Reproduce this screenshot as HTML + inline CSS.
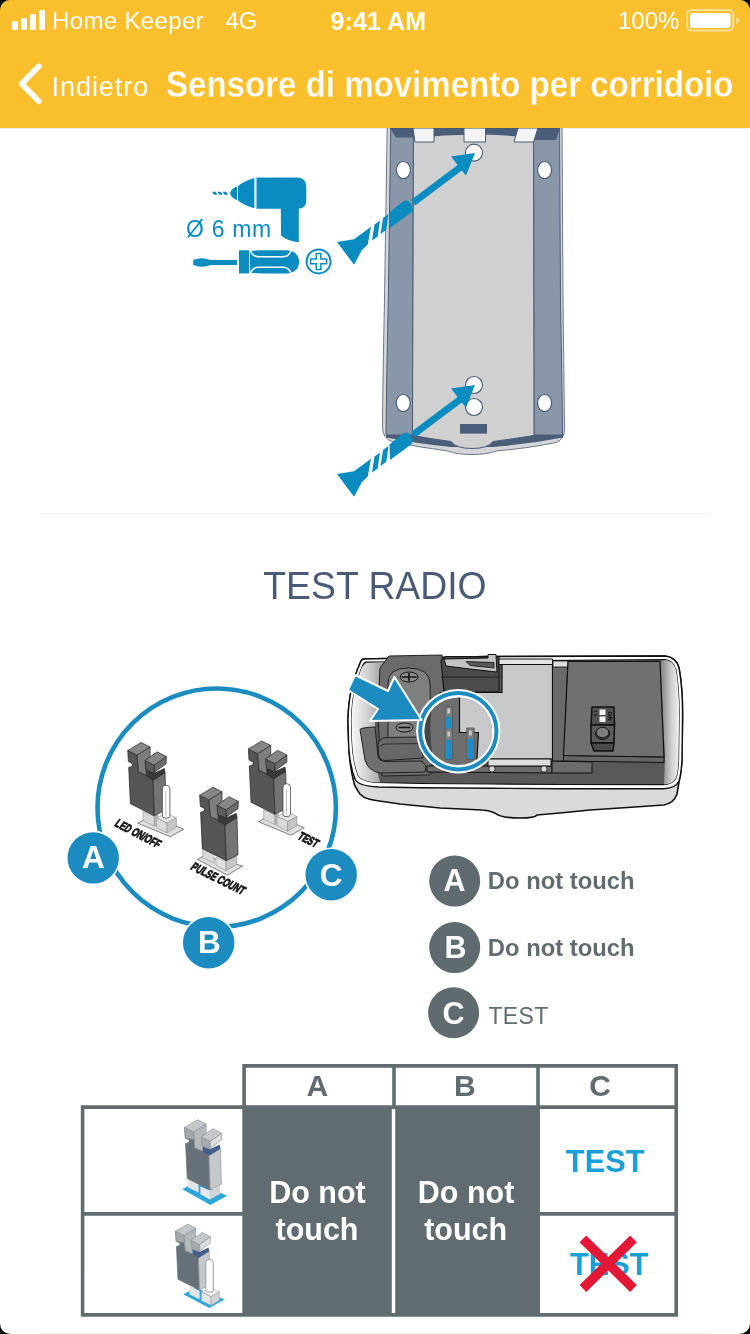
<!DOCTYPE html>
<html lang="it">
<head>
<meta charset="utf-8">
<title>Sensore di movimento per corridoio</title>
<style>
*{margin:0;padding:0;box-sizing:border-box}
html,body{width:750px;height:1334px;background:#000;overflow:hidden}
body{font-family:"Liberation Sans",sans-serif;position:relative}
#screen{will-change:transform;position:absolute;left:0;top:0;width:750px;height:1334px;background:#fff;border-radius:10.500px;overflow:hidden}
#hdr{position:absolute;left:0;top:0;width:750px;height:128px;background:#f9bf2c;z-index:5;box-shadow:0 0 1px rgba(0,0,0,.35)}
.t{position:absolute;white-space:nowrap;color:#fff;line-height:1}
#carrier{left:52px;top:9.300px;font-size:24px;letter-spacing:.35px}
#net{left:225.500px;top:9.300px;font-size:24px}
#clock{left:330.500px;top:8.500px;font-size:25px;font-weight:bold;letter-spacing:.1px}
#pct{left:618px;top:9.300px;font-size:24px}
#back{left:51.500px;top:73.600px;font-size:27px;letter-spacing:.95px}
#title{left:165.500px;top:67px;font-size:36px;font-weight:bold;transform:scaleX(.918);transform-origin:0 0;-webkit-text-stroke:.3px #f9bf2c}
#art{position:absolute;left:0;top:0;width:750px;height:1334px}
.sep{position:absolute;left:40px;width:670px;height:1px;background:#efefef}
#h2{position:absolute;left:0;width:750px;top:567px;text-align:center;font-size:38.500px;transform:scaleX(.97);transform-origin:374px 0;color:#4b5b75;line-height:1;white-space:nowrap}
</style>
</head>
<body>
<div id="screen">
<svg id="art" viewBox="0 0 750 1334" font-family="'Liberation Sans',sans-serif">
<!--PLATE-->
<g id="plate">
<!-- outer shell -->
<path d="M387.300 120 L562 120 L563 300 Q564 380 564.500 427 Q565 439.500 556 442.500 Q530 448 496 451 Q488 454.5 472 454.5 Q456 454.5 448 451 Q420 447.5 392 441.5 Q382.5 438.5 382.5 427 Q382.8 380 384.5 300 Z" fill="#d4d5d7" stroke="#6b7a90" stroke-width="1"/>
<!-- dark lower band -->
<path d="M386 432 L563 432 L563 437.5 Q530 444 493 447 L451 447 Q420 444 386 437.5 Z" fill="#4a5d79"/>
<!-- rails -->
<path d="M390.800 120 L413.500 120 L412.500 435 L386 435 Q386.500 380 388.300 300 Z" fill="#8997a9" stroke="#4a5d79" stroke-width="1"/>
<path d="M533.500 120 L559.500 120 L560.500 300 Q562 380 562.500 435 L534 435 Z" fill="#8997a9" stroke="#4a5d79" stroke-width="1"/>
<!-- inner panel -->
<path d="M413.5 120 L533.5 120 L534 435.5 Q512 439 493 441.5 Q488 448.5 472 448.5 Q456 448.5 451 441.5 Q432 439 412.5 435.5 Z" fill="#d0d0d0" stroke="#4a5d79" stroke-width="1"/>
<!-- top dark strip -->
<path d="M390 128 L560 128 L556 140 L534 140 L533 138 Q474 131 414 138 L413 137.500 L396 137.500 Z" fill="#4a5d79"/>
<!-- tabs -->
<path d="M413 128 L434 128 L434 142 L415 142 Z" fill="#f4f4f4" stroke="#4a5d79" stroke-width="1"/>
<path d="M464 128 L485.500 128 L485.500 142 L464 142 Z" fill="#f4f4f4" stroke="#4a5d79" stroke-width="1"/>
<path d="M518 128 L538 128 L533.500 142 L514 142 Z" fill="#f4f4f4" stroke="#4a5d79" stroke-width="1"/>
<!-- holes -->
<g fill="#fff" stroke="#4a5d79" stroke-width="1.200">
<ellipse cx="403.400" cy="170" rx="7" ry="8.500"/>
<ellipse cx="544.600" cy="170" rx="7" ry="8.500"/>
<ellipse cx="403.200" cy="403" rx="7" ry="8.500"/>
<ellipse cx="544.600" cy="403" rx="7" ry="8.500"/>
<circle cx="474" cy="152.600" r="8.500"/>
<circle cx="474" cy="385" r="8.500"/>
<circle cx="474" cy="407" r="8.500"/>
</g>
<rect x="460" y="424" width="27" height="9.600" fill="#4a5d79"/>
</g>
<g id="screws" fill="#0a8cc0">
<g id="screw1">
<path d="M475 153 L451 156.600 L457.600 165 L411 200 L415.200 205.600 L461.800 170.500 L466 175.600 Z"/>
<path d="M389.500 212.500 L403 201.500 Q407.500 199 410.500 203 L412.300 207 Q413.500 210.500 410.500 213 L390 228 Z"/>
<path d="M380.500 234 L383 218 L388.500 214 L386.200 230 Z"/>
<path d="M372 240.500 L374.500 224.500 L380 220.500 L377.700 236.500 Z"/>
<path d="M337 242 L354 239.300 L371 226.700 L367.700 244.700 L362 250 L354 264.700 Z"/>
</g>
<g id="screw2" transform="translate(0,232)">
<path d="M475 153 L451 156.600 L457.600 165 L411 200 L415.200 205.600 L461.800 170.500 L466 175.600 Z"/>
<path d="M389.500 212.500 L403 201.500 Q407.500 199 410.500 203 L412.300 207 Q413.500 210.500 410.500 213 L390 228 Z"/>
<path d="M380.500 234 L383 218 L388.500 214 L386.200 230 Z"/>
<path d="M372 240.500 L374.500 224.500 L380 220.500 L377.700 236.500 Z"/>
<path d="M337 242 L354 239.300 L371 226.700 L367.700 244.700 L362 250 L354 264.700 Z"/>
</g>
</g>
<g id="tools" fill="#0a8cc0">
<!-- drill -->
<path d="M256.500 177.500 L297 177.500 Q306.300 177.500 306.300 187 L306.300 199.500 Q306.300 208.700 298.800 208.700 L298.800 242.200 Q288 241.500 281 235.500 L280.800 208.700 L256.500 208.700 Z"/>
<path d="M254.400 178 L254.400 208.200 Q244 205.500 238 200.500 L238 186 Q244 181 254.400 178 Z"/>
<path d="M237 186.500 L237 200 Q231.500 198.500 230 193.200 Q231.500 188 237 186.500 Z"/>
<path d="M212 191.800 L215.500 191.800 L217.500 194.800 L214 194.800 Z M217.300 191.800 L220.800 191.800 L222.800 194.800 L219.300 194.800 Z M222.600 191.800 L226.100 191.800 L228.100 194.800 L224.600 194.800 Z"/>
<!-- screwdriver -->
<path d="M193.200 260 Q199 257.500 205 258.500 Q208 259.500 212 260 L237 260 L237 265 L212 265 Q208 265.500 205 266.500 Q199 267.500 193.200 265 Z"/>
<path d="M239 250.300 L249 250.300 L249 273.400 L239 273.400 Z"/>
<path d="M250 251 Q255 250.300 262 250.300 L287 250.300 Q299 251.500 299 262 Q299 272.500 287 273.400 L262 273.400 Q255 273.400 250 272.700 Z"/>
<path d="M250.5 251 Q253 256.800 258.500 256.800 L283 256.800 Q288.500 256.800 291 251" fill="none" stroke="#fff" stroke-width="1.500"/>
<path d="M250.5 272.800 Q253 267.200 258.500 267.200 L283 267.200 Q288.500 267.200 291 272.800" fill="none" stroke="#fff" stroke-width="1.500"/>
<circle cx="318.600" cy="261.400" r="12" fill="none" stroke="#0a8cc0" stroke-width="2"/>
<path d="M316.300 253.400 h4.600 v5.700 h5.700 v4.600 h-5.700 v5.700 h-4.600 v-5.700 h-5.700 v-4.600 h5.700 z" fill="none" stroke="#0a8cc0" stroke-width="1.500"/>
<text x="186" y="236.800" font-size="23" letter-spacing="0.700" fill="#0a8cc0">Ø 6 mm</text>
</g>
<!--/PLATE-->
<g id="device" stroke-linejoin="round">
<defs>
<linearGradient id="gwr" x1="0" y1="0" x2="1" y2="0"><stop offset="0" stop-color="#7d7d7d"/><stop offset=".6" stop-color="#cfcfcf"/><stop offset="1" stop-color="#f2f2f2"/></linearGradient>
<linearGradient id="gwl" x1="0" y1="0" x2="1" y2="0"><stop offset="0" stop-color="#f8f8f8"/><stop offset=".5" stop-color="#d0d0d0"/><stop offset="1" stop-color="#9a9a9a"/></linearGradient>
<clipPath id="lens"><circle cx="458.300" cy="731.200" r="33.800"/></clipPath>
</defs>
<!-- shell -->
<path d="M363 659 L488 656.500 L665 656 Q676 657 679 668 Q683 690 682.500 720 L682 760 Q681 775 679 782 L677 794 Q674 803 664 805 L620 808 L590 810 L560 813 L537 815 Q535 818 520 818 Q500 818 495 813 Q488 810 482 810 L440 808 L400 804 L376 800.500 Q361 798.500 358 791 L354.500 785 Q349 765 348.500 740 L348 720 Q348.500 700 352 688 Q356 672 359 666 Q361 660 363 659 Z" fill="#dadada" stroke="#111" stroke-width="1.600"/>
<!-- rim -->
<path d="M363 659 L488 656.500 L665 656 Q676 657 679 668 Q683 690 682.500 720 L682 760 Q681 775 679 781 Q676 788 664 788.700 L560 788.700 L490 788.300 L420 787.800 L378 787 Q359 786 355.500 780 Q349 765 348.500 740 L348 720 Q348.500 700 352 688 Q356 672 359 666 Q361 660 363 659 Z" fill="#fff" stroke="#111" stroke-width="1.400"/>
<!-- cavity -->
<path d="M366 662 L665 659.500 Q673 660 676 670 Q679.500 690 679 720 L678.500 760 Q678 772 676 778 Q673 784 664 784.700 L560 784.500 L490 784 L420 783.500 L378 782.500 Q361 781.500 358 775 Q352.500 760 352 740 L351.500 720 Q352 700 355 690 Q359 674 362 667 Q363.500 662.500 366 662 Z" fill="#595959" stroke="#111" stroke-width="1.200"/>
<!-- inner left wall -->
<path d="M366 663 L384 662 Q376 690 375 725 L377 770 L380 782 L378 782.500 Q361 781.500 358 775 Q352.500 760 352 740 L351.500 720 Q352 700 355 690 Q359 674 362 667 Z" fill="url(#gwl)"/>
<!-- inner right wall -->
<path d="M660 661 L665 660 Q673 660 676 670 Q679.500 690 679 720 L678.500 760 Q678 772 676 778 Q673 784 664 784.500 L665 758 Z" fill="url(#gwr)"/>
<!-- battery holder -->
<path d="M380 668 L389 656 L442 655 L444 700 L430 775 L382 776 Q376 730 380 668 Z" fill="#6b6b6b" stroke="#222" stroke-width="1"/>
<path d="M388 683 Q388 668 408 668 Q430 668 430 684 L431 746 L388 748 Z" fill="#7f7f7f" stroke="#222" stroke-width="1"/>
<ellipse cx="409" cy="677" rx="9" ry="5" fill="#8c8c8c" stroke="#111" stroke-width="1"/>
<path d="M401.500 677 h15 M409 673 v8" stroke="#111" stroke-width="1.600" fill="none"/>
<ellipse cx="404.500" cy="727.500" rx="8.500" ry="4.500" fill="#8c8c8c" stroke="#111" stroke-width="1"/>
<path d="M398.500 727.500 h12" stroke="#111" stroke-width="1.600" fill="none"/>
<path d="M360 729.500 Q361 727.500 375 727 L378 756 Q379 761 385 761.500 L422 761 L426 766 L425 772 L380 773 Q368 771 365 760 Z" fill="#707070" stroke="#222" stroke-width="1"/>
<path d="M378 745 Q379 738 386 737.500 L418 737 Q422 738 422.500 744 L423 758 L385 760.500 Q379 760 378.500 754 Z" fill="#686868" stroke="#222" stroke-width="1"/><path d="M380 746 Q382 744 386 744 L422 743.500" fill="none" stroke="#222" stroke-width=".8"/>
<!-- floor strips -->
<path d="M427 766 L552 766 L552 773 L427 772 Z" fill="#6c6c6c" stroke="#111" stroke-width="1"/>
<path d="M552 761 L592 762 L592 773 L552 773 Z" fill="#6c6c6c" stroke="#111" stroke-width="1"/>
<!-- clip -->
<path d="M441 660 L446 656.500 L499 657 L499 692 L444 692 Z" fill="#4b4b4b" stroke="#111" stroke-width="1"/>
<path d="M441 677 L499 677" stroke="#222" stroke-width="1" fill="none"/>
<path d="M444 659 L488 658 L488 654.500 L496 654.500 L497 672 L470 669 L446 666 Z" fill="#c3c3c3" stroke="#111" stroke-width="1"/>
<path d="M466 661.500 L494 662.500 L494 668 L470 665.500 Z" fill="#5a5a5a" stroke="#111" stroke-width=".8"/>
<!-- pcb -->
<path d="M499 659 L552.500 659 L552.500 664.500 L499 664.500 Z" fill="#e4e4e4" stroke="#111" stroke-width="1"/>
<path d="M502 664.500 L552.500 664.500 L552.500 759 L440 759 L440 692.500 L502 692.500 Z" fill="#c7c8ca" stroke="#111" stroke-width="1.200"/>
<path d="M488 759 L551 759 L551 766 L488 766 Z" fill="#dcdcdc" stroke="#111" stroke-width="1"/>
<circle cx="492" cy="769" r="3.200" fill="#d8d8d8" stroke="#111" stroke-width=".8"/>
<circle cx="544" cy="769" r="3.200" fill="#d8d8d8" stroke="#111" stroke-width=".8"/>
<!-- mid strip -->
<path d="M552.500 661 L568 661 L564 761 L552.500 761 Z" fill="#6a6a6a" stroke="#111" stroke-width="1"/>
<path d="M553 661 L568 661 L568 667 L553 667 Z" fill="#dedede" stroke="#111" stroke-width=".8"/>
<!-- right board -->
<path d="M563.500 755.500 L664 757 L664 762.500 L563.500 761 Z" fill="#666" stroke="#111" stroke-width="1"/>
<path d="M568 661.500 L660 661.500 L664 757 L563.500 755.500 Z" fill="#707070" stroke="#111" stroke-width="1.200"/>
<!-- dip switch -->
<path d="M592 707 L614 707 L614.500 725 L591 725 Z" fill="#505050" stroke="#111" stroke-width="1.500"/>
<path d="M591 725 L614.500 725 L614 743 L591 743 Z" fill="#5c5c5c" stroke="#111" stroke-width="1.500"/>
<path d="M591 743 L614 743 L613 751 L594 751 Z" fill="#4a4a4a" stroke="#111" stroke-width="1.500"/>
<ellipse cx="602.500" cy="733.500" rx="7" ry="6" fill="#3a3a3a" stroke="#111" stroke-width="1"/>
<ellipse cx="602.500" cy="732.500" rx="6.300" ry="5.200" fill="#7d7d7d" stroke="#111" stroke-width=".8"/>
<rect x="599.500" y="709.500" width="6" height="5.500" fill="#f2f2f2"/>
<rect x="599.500" y="716.500" width="6" height="5.500" fill="#f2f2f2"/>
<text transform="translate(607.500,711.500) rotate(90)" font-size="6" font-weight="bold" fill="#0c0c0c" stroke="none">ON</text>
<text transform="translate(594,710.500) rotate(90)" font-size="4" font-weight="bold" fill="#0c0c0c" stroke="none">1 2</text>
<!-- lens -->
<circle cx="458.300" cy="731.200" r="42.200" fill="#fff"/>
<g clip-path="url(#lens)">
<rect x="415" y="690" width="90" height="85" fill="#6e6e6e"/><path d="M424 716 Q429 709 432 706 Q428 731 433 757 Q427 750 424 746 Z" fill="#3c3c3c" opacity=".8"/>
<path d="M459.500 688 L502 688 L502 775 L476 775 L478.500 732.500 L459.500 732.500 Z" fill="#c7c8ca" stroke="#111" stroke-width="1.200"/>
<rect x="445" y="706.500" width="7.500" height="53" fill="#7c7c7c" stroke="#555" stroke-width=".8"/>
<rect x="446" y="717" width="5.500" height="11.500" fill="#1c8dc8"/>
<rect x="446" y="740" width="5.500" height="19" fill="#1c8dc8"/>
<rect x="447.300" y="708.500" width="2.800" height="5" fill="#c8c8c8"/>
<rect x="447.300" y="731.500" width="2.800" height="5" fill="#c8c8c8"/>
<rect x="466.700" y="728" width="7.500" height="31.500" fill="#7c7c7c" stroke="#555" stroke-width=".8"/>
<rect x="467.700" y="739" width="5.500" height="20" fill="#1c8dc8"/>
<rect x="469" y="730.500" width="2.800" height="5" fill="#c8c8c8"/>
</g>
<circle cx="458.300" cy="731.200" r="38.200" fill="none" stroke="#1c8bbf" stroke-width="4"/>
<!-- big arrow -->
<path d="M355 675 L388 691 L394.400 677 L421.600 720 L370 721 L378 709 L348 690 Z" fill="#1c8bbf" stroke="#fff" stroke-width="2"/>
</g>
<g id="jumpers">
<circle cx="216.700" cy="807.700" r="119.200" fill="none" stroke="#1c8bbf" stroke-width="4.600"/>
<!-- jumper C -->
<g transform="translate(235,735) scale(0.13333)" stroke="#222" stroke-width="5" stroke-linejoin="round">
<path d="M175 650 L275 595 L520 695 L420 752 Z" fill="#dedede" stroke-width="4"/>
<path d="M215 560 L300 600 L300 672 L215 632 Z" fill="#d9d9d9" stroke="#8a8a8a" stroke-width="4"/>
<path d="M300 600 L325 588 L325 660 L300 672 Z" fill="#bdbdbd" stroke="#8a8a8a" stroke-width="4"/>
<path d="M100 105 L170 140 L180 265 L262 300 L290 325 L300 595 L120 505 L107 232 L132 224 L138 206 L105 188 Z" fill="#565656"/>
<path d="M290 325 L380 270 L388 550 L300 595 Z" fill="#747474"/>
<path d="M238 250 L300 275 L375 240 L380 272 L292 328 L240 296 Z" fill="#3a3a3a"/>
<path d="M170 140 L268 78 L268 150 L234 182 L240 292 L180 265 Z" fill="#7e7e7e"/>
<path d="M100 105 L200 45 L268 78 L170 140 Z" fill="#868686"/>
<path d="M230 180 L300 215 L300 275 L262 262 L236 250 Z" fill="#5c5c5c"/>
<path d="M300 215 L390 150 L388 205 L300 268 Z" fill="#6c6c6c"/>
<path d="M230 180 L320 115 L390 150 L300 215 Z" fill="#868686"/>
<path d="M315 610 L390 575 L465 610 L395 650 Z" fill="#e4e4e4" stroke="#8a8a8a" stroke-width="4"/>
<path d="M315 610 L395 650 L395 722 L315 682 Z" fill="#d9d9d9" stroke="#8a8a8a" stroke-width="4"/>
<path d="M395 650 L465 610 L465 680 L395 722 Z" fill="#c6c6c6" stroke="#8a8a8a" stroke-width="4"/>
<path d="M360 392 Q360 365 388 365 Q416 365 416 392 L416 598 Q416 612 388 612 Q360 612 360 598 Z" fill="#fff" stroke="#4a4a4a" stroke-width="6"/>
<path d="M386 410 L386 595" stroke="#9a9a9a" stroke-width="5" fill="none"/>
</g>
<!-- jumper A -->
<g transform="translate(114.400,736.500) scale(0.13333)" stroke="#222" stroke-width="5" stroke-linejoin="round">
<path d="M175 650 L275 595 L520 695 L420 752 Z" fill="#dedede" stroke-width="4"/>
<path d="M215 560 L300 600 L300 672 L215 632 Z" fill="#d9d9d9" stroke="#8a8a8a" stroke-width="4"/>
<path d="M300 600 L325 588 L325 660 L300 672 Z" fill="#bdbdbd" stroke="#8a8a8a" stroke-width="4"/>
<path d="M100 105 L170 140 L180 265 L262 300 L290 325 L300 595 L120 505 L107 232 L132 224 L138 206 L105 188 Z" fill="#565656"/>
<path d="M290 325 L380 270 L388 550 L300 595 Z" fill="#747474"/>
<path d="M238 250 L300 275 L375 240 L380 272 L292 328 L240 296 Z" fill="#3a3a3a"/>
<path d="M170 140 L268 78 L268 150 L234 182 L240 292 L180 265 Z" fill="#7e7e7e"/>
<path d="M100 105 L200 45 L268 78 L170 140 Z" fill="#868686"/>
<path d="M230 180 L300 215 L300 275 L262 262 L236 250 Z" fill="#5c5c5c"/>
<path d="M300 215 L390 150 L388 205 L300 268 Z" fill="#6c6c6c"/>
<path d="M230 180 L320 115 L390 150 L300 215 Z" fill="#868686"/>
<path d="M315 610 L390 575 L465 610 L395 650 Z" fill="#e4e4e4" stroke="#8a8a8a" stroke-width="4"/>
<path d="M315 610 L395 650 L395 722 L315 682 Z" fill="#d9d9d9" stroke="#8a8a8a" stroke-width="4"/>
<path d="M395 650 L465 610 L465 680 L395 722 Z" fill="#c6c6c6" stroke="#8a8a8a" stroke-width="4"/>
<path d="M360 392 Q360 365 388 365 Q416 365 416 392 L416 598 Q416 612 388 612 Q360 612 360 598 Z" fill="#fff" stroke="#4a4a4a" stroke-width="6"/>
<path d="M386 410 L386 595" stroke="#9a9a9a" stroke-width="5" fill="none"/>
</g>
<!-- jumper B -->
<g transform="translate(186.300,781.300) scale(0.13333)" stroke="#222" stroke-width="5" stroke-linejoin="round">
<path d="M83 585 L130 560 L423 635 L308 705 Z" fill="#dedede" stroke-width="4"/>
<path d="M123 505 L208 545 L208 615 L123 575 Z" fill="#d9d9d9" stroke="#8a8a8a" stroke-width="4"/>
<path d="M223 570 L298 600 L298 670 L223 630 Z" fill="#e0e0e0" stroke="#8a8a8a" stroke-width="4"/>
<path d="M298 600 L378 560 L378 625 L298 670 Z" fill="#c6c6c6" stroke="#8a8a8a" stroke-width="4"/>
<path d="M100 105 L170 140 L180 265 L262 300 L290 325 L300 595 L120 505 L107 232 L132 224 L138 206 L105 188 Z" fill="#565656"/>
<path d="M290 325 L380 270 L388 550 L300 595 Z" fill="#747474"/>
<path d="M238 250 L300 275 L375 240 L380 272 L292 328 L240 296 Z" fill="#3a3a3a"/>
<path d="M170 140 L268 78 L268 150 L234 182 L240 292 L180 265 Z" fill="#7e7e7e"/>
<path d="M100 105 L200 45 L268 78 L170 140 Z" fill="#868686"/>
<path d="M230 180 L300 215 L300 275 L262 262 L236 250 Z" fill="#5c5c5c"/>
<path d="M300 215 L390 150 L388 205 L300 268 Z" fill="#6c6c6c"/>
<path d="M230 180 L320 115 L390 150 L300 215 Z" fill="#868686"/>
</g>
<!-- labels -->
<g font-weight="bold" font-size="12.200" fill="#111" stroke="#111" stroke-width=".8" stroke-linejoin="round">
<text transform="translate(113.800,825.600) rotate(27.500) skewX(-10) scale(.665,1)">LED ON/OFF</text>
<text transform="translate(189.800,869) rotate(26.500) skewX(-10) scale(.665,1)">PULSE COUNT</text>
<text transform="translate(296.800,838.500) rotate(26.500) skewX(-10) scale(.665,1)">TEST</text>
</g>
<!-- badges -->
<g font-weight="bold" font-size="31.500" fill="#fff" text-anchor="middle">
<circle cx="93.200" cy="857.900" r="27.300" fill="#fff"/>
<circle cx="93.200" cy="857.900" r="25.700" fill="#1c8bbf"/>
<text x="93.400" y="868.400">A</text>
<circle cx="208.700" cy="942.700" r="27.300" fill="#fff"/>
<circle cx="208.700" cy="942.700" r="25.700" fill="#1c8bbf"/>
<text x="209.300" y="953.400">B</text>
<circle cx="331.200" cy="874.700" r="27.300" fill="#fff"/>
<circle cx="331.200" cy="874.700" r="25.700" fill="#1c8bbf"/>
<text x="331.200" y="885.700">C</text>
</g>
</g>
<g id="legend">
<g font-weight="bold" font-size="30.500" fill="#fff" text-anchor="middle">
<circle cx="454.700" cy="881.100" r="25.500" fill="#606b70"/>
<text x="454.600" y="891.200">A</text>
<circle cx="454.700" cy="947.600" r="25.500" fill="#606b70"/>
<text x="455.400" y="957.800">B</text>
<circle cx="453.600" cy="1012.800" r="25.500" fill="#606b70"/>
<text x="453.600" y="1023.600">C</text>
</g>
<text x="487.800" y="889" font-size="23.800" font-weight="bold" fill="#616c71">Do not touch</text>
<text x="487.800" y="955.800" font-size="23.800" font-weight="bold" fill="#616c71">Do not touch</text>
<text x="488.500" y="1024.400" font-size="23" letter-spacing="0.300" fill="#616c71">TEST</text>
</g>
<g id="table">
<rect x="242.300" y="1107" width="297.400" height="208" fill="#616c70"/>
<g fill="none" stroke="#616c70" stroke-width="3.600">
<path d="M244.100 1107 V1065.900 H676.200 V1314.900 H82.600 V1107.100 H676.200"/>
<path d="M538 1066 V1314"/>
<path d="M394 1066 V1107"/>
<path d="M82.600 1213.900 H243"/>
<path d="M538 1213.900 H676.200"/>
</g>
<path d="M393.500 1109 V1313.100" stroke="#fff" stroke-width="3.400" fill="none"/>
<g font-weight="bold" font-size="30" fill="#616c70" text-anchor="middle">
<text x="317.400" y="1096.300">A</text>
<text x="464.800" y="1096.300">B</text>
<text x="600.200" y="1096.300">C</text>
</g>
<g font-weight="bold" font-size="30.500" fill="#fff" text-anchor="middle">
<text x="317.500" y="1203.300">Do not</text>
<text x="317" y="1239.600">touch</text>
<text x="466.100" y="1203.300">Do not</text>
<text x="465.700" y="1239.600">touch</text>
</g>
<g font-weight="bold" font-size="30.800" fill="#1b9fd9" text-anchor="middle">
<text x="605.200" y="1172.100">TEST</text>
<text x="609.300" y="1275">TEST</text>
</g>
<path d="M582.900 1238.900 L633.500 1288.500 M633.500 1238.900 L582.900 1288.500" stroke="#e31837" stroke-width="9.600" fill="none"/>
<!-- small jumper top -->
<g transform="translate(171.950,1114) scale(0.1275)" stroke-linejoin="round">
<path d="M81 590 L185 530 L433 642 L302 714 Z" fill="#2fa6d8"/>
<path d="M123 505 L208 545 L208 615 L123 575 Z" fill="#e2e3e4"/>
<path d="M223 570 L298 600 L298 670 L223 630 Z" fill="#e6e7e8"/>
<path d="M298 600 L378 560 L378 625 L298 670 Z" fill="#d0d2d4"/>
<path d="M100 105 L170 140 L180 265 L262 300 L290 325 L300 595 L120 505 L107 232 L132 224 L138 206 L105 188 Z" fill="#66717a" stroke="#66717a" stroke-width="6"/>
<path d="M290 325 L380 270 L388 550 L300 595 Z" fill="#c5c8ca" stroke="#8a9197" stroke-width="5"/>
<path d="M238 250 L300 275 L375 240 L380 272 L292 328 L240 296 Z" fill="#44608a"/>
<path d="M170 140 L268 78 L268 150 L234 182 L240 292 L180 265 Z" fill="#b4b8bb" stroke="#8a9197" stroke-width="5"/>
<path d="M100 105 L170 140 L172 200 L105 188 Z" fill="#a4a9ad" stroke="#8a9197" stroke-width="5"/>
<path d="M100 105 L200 45 L268 78 L170 140 Z" fill="#c5c8ca" stroke="#8a9197" stroke-width="5"/>
<path d="M230 180 L300 215 L300 275 L262 262 L236 250 Z" fill="#a4a9ad" stroke="#8a9197" stroke-width="5"/>
<path d="M300 215 L390 150 L388 205 L300 268 Z" fill="#dcdee0" stroke="#8a9197" stroke-width="5"/>
<path d="M230 180 L320 115 L390 150 L300 215 Z" fill="#c5c8ca" stroke="#8a9197" stroke-width="5"/>
</g>
<!-- small jumper bottom -->
<g transform="translate(163.600,1218.700) scale(0.12)" stroke-linejoin="round">
<path d="M164 629 L265 575 L510 673 L380 745 Z" fill="#2fa6d8"/>
<path d="M215 560 L300 600 L300 672 L215 632 Z" fill="#e2e3e4"/>
<path d="M100 105 L170 140 L180 265 L262 300 L290 325 L300 595 L120 505 L107 232 L132 224 L138 206 L105 188 Z" fill="#66717a" stroke="#66717a" stroke-width="6"/>
<path d="M290 325 L380 270 L388 550 L300 595 Z" fill="#c5c8ca" stroke="#8a9197" stroke-width="5"/>
<path d="M238 250 L300 275 L375 240 L380 272 L292 328 L240 296 Z" fill="#44608a"/>
<path d="M170 140 L268 78 L268 150 L234 182 L240 292 L180 265 Z" fill="#b4b8bb" stroke="#8a9197" stroke-width="5"/>
<path d="M100 105 L170 140 L172 200 L105 188 Z" fill="#a4a9ad" stroke="#8a9197" stroke-width="5"/>
<path d="M100 105 L200 45 L268 78 L170 140 Z" fill="#c5c8ca" stroke="#8a9197" stroke-width="5"/>
<path d="M230 180 L300 215 L300 275 L262 262 L236 250 Z" fill="#a4a9ad" stroke="#8a9197" stroke-width="5"/>
<path d="M300 215 L390 150 L388 205 L300 268 Z" fill="#dcdee0" stroke="#8a9197" stroke-width="5"/>
<path d="M230 180 L320 115 L390 150 L300 215 Z" fill="#c5c8ca" stroke="#8a9197" stroke-width="5"/>
<path d="M315 610 L390 575 L465 610 L395 650 Z" fill="#eeeeef" stroke="#a0a5a9" stroke-width="5"/>
<path d="M315 610 L395 650 L395 722 L315 682 Z" fill="#e2e3e4" stroke="#a0a5a9" stroke-width="5"/>
<path d="M395 650 L465 610 L465 680 L395 722 Z" fill="#d0d2d4" stroke="#a0a5a9" stroke-width="5"/>
<path d="M352 366 Q352 339 383 339 Q414 339 414 366 L414 598 Q414 612 383 612 Q352 612 352 598 Z" fill="#fff" stroke="#8a9197" stroke-width="7"/>
</g>
</g>
</svg>
<div class="sep" style="top:513px"></div>
<div class="sep" style="top:1333px"></div>
<div id="h2">TEST RADIO</div>
<div id="hdr">
<svg width="750" height="128" viewBox="0 0 750 128" style="position:absolute;left:0;top:0">
<g fill="#fff">
<rect x="12" y="21" width="6" height="9" rx="1.7"/>
<rect x="21" y="18" width="6" height="12" rx="1.7"/>
<rect x="30" y="14" width="6" height="16" rx="1.7"/>
<rect x="39" y="10" width="6" height="20" rx="1.7"/>
</g>
<rect x="687.200" y="10" width="46" height="20.600" rx="4.500" fill="none" stroke="#fff" stroke-opacity=".5" stroke-width="2"/>
<rect x="690" y="13" width="40.500" height="15" rx="2.500" fill="#fff"/>
<path d="M736.300 16.800 q3 1.500 3 3.700 q0 2.200 -3 3.700z" fill="#fff" fill-opacity=".5"/>
<path d="M38.800 66.200 L21.700 83.700 L38.800 101.300" fill="none" stroke="#fff" stroke-width="5.600" stroke-linecap="round" stroke-linejoin="round"/>
</svg>
<div class="t" id="carrier">Home Keeper</div>
<div class="t" id="net">4G</div>
<div class="t" id="clock">9:41 AM</div>
<div class="t" id="pct">100%</div>
<div class="t" id="back">Indietro</div>
<div class="t" id="title">Sensore di movimento per corridoio</div>
</div>
</div>
</body>
</html>
